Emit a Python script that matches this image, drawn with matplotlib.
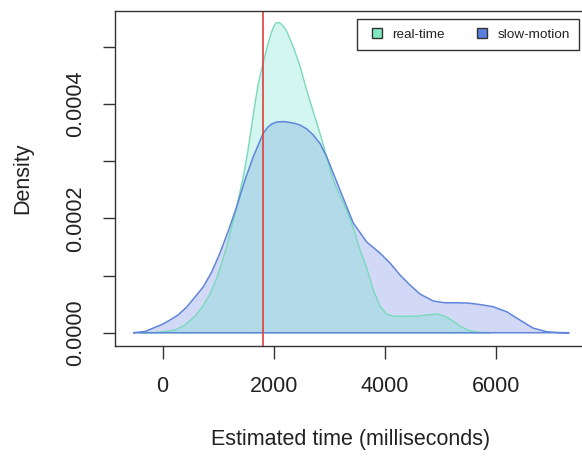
import matplotlib
matplotlib.use("Agg")
import matplotlib.pyplot as plt
from matplotlib.lines import Line2D

plt.rcParams['font.family'] = ['Liberation Sans', 'DejaVu Sans']

# kernel density estimates of the time guesses (ms -> density)
rt_x = [-409, -139, 41, 222, 402, 582, 726, 852, 996, 1140, 1303, 1452, 1537,
        1632, 1717, 1813, 1897, 1950, 1987, 2020, 2054, 2095, 2132, 2180, 2234,
        2353, 2474, 2595, 2714, 2834, 2955, 3074, 3195, 3315, 3434, 3555, 3676,
        3795, 3915, 4036, 4155, 4330, 4577, 4757, 4937, 5050, 5177, 5357, 5477,
        5596, 5717, 5897]
rt_y = [0, 0.0000003, 0.0000021, 0.0000047, 0.0000136, 0.000029, 0.0000467,
        0.0000677, 0.000101, 0.000146, 0.000207, 0.000272, 0.000319, 0.000381,
        0.000433, 0.000473, 0.000505, 0.000522, 0.000532, 0.000539, 0.000542,
        0.000542, 0.00054, 0.000535, 0.000527, 0.0005, 0.000466, 0.000424,
        0.000386, 0.000349, 0.000307, 0.000267, 0.000239, 0.000214, 0.000183,
        0.000145, 0.000113, 0.0000748, 0.0000467, 0.0000327, 0.000029, 0.0000287,
        0.000029, 0.000031, 0.0000327, 0.00003, 0.000024, 0.0000117, 0.0000056,
        0.0000021, 0.0000005, 0]

sm_x = [-530, -319, -169, -13, 132, 276, 432, 582, 732, 883, 1032, 1182, 1333,
        1483, 1632, 1813, 1890, 1964, 2040, 2114, 2200, 2294, 2380, 2474, 2600,
        2714, 2840, 2955, 3195, 3434, 3676, 3915, 4096, 4276, 4456, 4636, 4876,
        5086, 5297, 5500, 5717, 5951, 6198, 6436, 6672, 6919, 7122, 7326]
sm_y = [0, 0.0000021, 0.0000082, 0.0000143, 0.0000222, 0.0000309, 0.0000449,
        0.0000624, 0.0000804, 0.0001061, 0.0001393, 0.0001778, 0.0002203,
        0.000267, 0.0003077, 0.0003491, 0.000359, 0.0003649, 0.000368,
        0.0003689, 0.000369, 0.0003675, 0.000366, 0.0003631, 0.000356,
        0.0003456, 0.00033, 0.0003077, 0.0002495, 0.0001918, 0.0001586,
        0.0001393, 0.0001219, 0.0001009, 0.0000834, 0.0000677, 0.0000554,
        0.0000524, 0.0000524, 0.0000519, 0.0000493, 0.0000455, 0.0000367,
        0.0000222, 0.0000082, 0.0000017, 0.0000003, 0]

actual_ms = 1800
series_names = ["real-time", "slow-motion"]
x_ticks = [0, 2000, 4000, 6000]
y_ticks = [0, 0.0001, 0.0002, 0.0003, 0.0004, 0.0005]
y_ticklabels = ["0.0000", "", "0.0002", "", "0.0004", ""]

fig = plt.figure(figsize=(5.82, 4.59), dpi=100)
ax = fig.add_axes([0.1976, 0.2468, 0.8105, 0.7292])

# slow-motion fill underneath, real-time fill over it, outlines on top
ax.fill(sm_x, sm_y, facecolor='#9dabed', alpha=0.45, edgecolor='none')
ax.fill(rt_x, rt_y, facecolor='#57dfc4', alpha=0.25, edgecolor='none')
ax.fill(rt_x, rt_y, facecolor='none', edgecolor='#7bd9bb', linewidth=1.0)
ax.fill(sm_x, sm_y, facecolor='none', edgecolor='#5f86d9', linewidth=1.1)
ax.axvline(actual_ms, color='#e0403a', linewidth=1.2)

ax.set_xlim(-859, 7640)
ax.set_ylim(-0.0000227, 0.0005624)
ax.set_xticks(x_ticks)
ax.set_xticklabels([str(v) for v in x_ticks])
ax.set_yticks(y_ticks)
ax.set_yticklabels(y_ticklabels, rotation=90, va='center')

for s in ax.spines.values():
    s.set_color('#333333')
    s.set_linewidth(1.0)
ax.tick_params(axis='both', length=9, width=1.0, color='#333333',
               labelsize=15.5, labelcolor='#222222')
ax.tick_params(axis='x', pad=13)
ax.tick_params(axis='y', pad=12)

ax.set_xlabel("Estimated time (milliseconds)", fontsize=15.5, color='#222222', labelpad=23)
ax.set_ylabel("Density", fontsize=15.5, color='#222222', labelpad=23)

handles = [
    Line2D([], [], linestyle='none', marker='s', markersize=7,
           markerfacecolor='#7ee8c0', markeredgecolor='#333333', markeredgewidth=1.0),
    Line2D([], [], linestyle='none', marker='s', markersize=7,
           markerfacecolor='#5b7fdc', markeredgecolor='#333333', markeredgewidth=1.0),
]
leg = ax.legend(handles, series_names, loc='upper right', ncol=2,
                bbox_to_anchor=(579 / 582, 1 - 19 / 459), bbox_transform=fig.transFigure,
                borderaxespad=0, fancybox=False, fontsize=9.7, handlelength=1.5,
                handletextpad=0.4, columnspacing=2.0, borderpad=0.7, framealpha=1)
leg.get_frame().set_edgecolor('#333333')
leg.get_frame().set_linewidth(1.0)
for t in leg.get_texts():
    t.set_color('#222222')

fig.savefig("out.png", dpi=100)
